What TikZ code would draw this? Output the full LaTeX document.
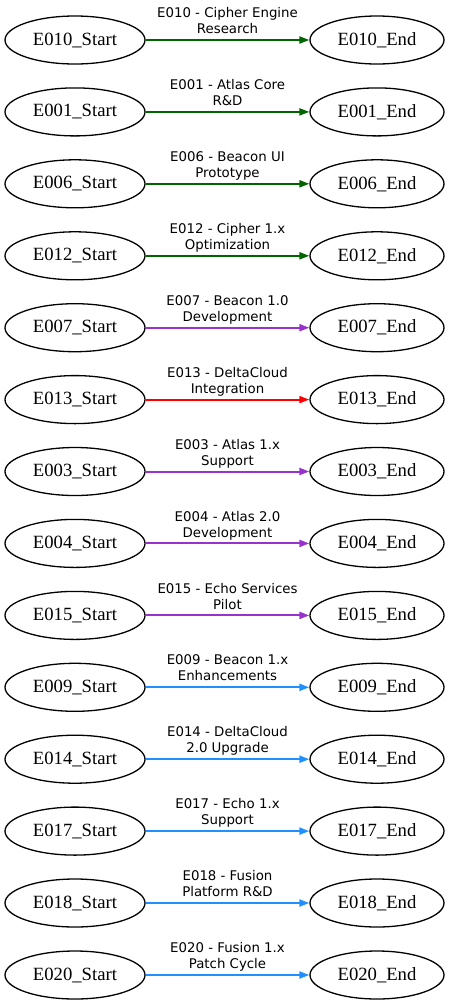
\documentclass[tikz,border=0pt]{standalone}
\usepackage{fontspec}
\usepackage{xcolor}
\usepackage{tikz}
\usetikzlibrary{shapes.geometric,arrows.meta}
\newfontfamily\evtfont{Liberation Serif}
\newfontfamily\labfont{DejaVu Sans}
\definecolor{cgreen}{HTML}{006400}
\definecolor{cpurple}{HTML}{9932CC}
\definecolor{cred}{HTML}{FF0000}
\definecolor{cblue}{HTML}{1E90FF}
\tikzset{
  evt/.style={draw,ellipse,line width=1.3pt,inner sep=0pt,minimum height=48pt,
    font=\evtfont\fontsize{18.67}{20}\selectfont},
  evs/.style={evt,minimum width=140pt},
  eve/.style={evt,minimum width=134pt},
  link/.style={->,line width=2pt},
  elab/.style={above=2.6pt,inner sep=0pt,align=center,text=black,
    font=\labfont\fontsize{13.33}{16}\selectfont}
}
\newcommand{\lab}[2]{#1\\#2\vphantom{y}}
\begin{document}
\begin{tikzpicture}[x=1pt,y=-1pt,>={Triangle[length=10pt,width=7pt]}]
  \useasboundingbox (0,0) rectangle (448,1005);
  \node[evs] (s010) at (75,40) {E010\_Start};
  \node[eve] (e010) at (377,40) {E010\_End};
  \draw[link,cgreen] (s010) -- node[elab] {\lab{E010 - Cipher Engine}{Research}} (e010);
  \node[evs] (s001) at (75,111.9) {E001\_Start};
  \node[eve] (e001) at (377,111.9) {E001\_End};
  \draw[link,cgreen] (s001) -- node[elab] {\lab{E001 - Atlas Core}{R\&D}} (e001);
  \node[evs] (s006) at (75,183.8) {E006\_Start};
  \node[eve] (e006) at (377,183.8) {E006\_End};
  \draw[link,cgreen] (s006) -- node[elab] {\lab{E006 - Beacon UI}{Prototype}} (e006);
  \node[evs] (s012) at (75,255.8) {E012\_Start};
  \node[eve] (e012) at (377,255.8) {E012\_End};
  \draw[link,cgreen] (s012) -- node[elab] {\lab{E012 - Cipher 1.x}{Optimization}} (e012);
  \node[evs] (s007) at (75,327.7) {E007\_Start};
  \node[eve] (e007) at (377,327.7) {E007\_End};
  \draw[link,cpurple] (s007) -- node[elab] {\lab{E007 - Beacon 1.0}{Development}} (e007);
  \node[evs] (s013) at (75,399.6) {E013\_Start};
  \node[eve] (e013) at (377,399.6) {E013\_End};
  \draw[link,cred] (s013) -- node[elab] {\lab{E013 - DeltaCloud}{Integration}} (e013);
  \node[evs] (s003) at (75,471.5) {E003\_Start};
  \node[eve] (e003) at (377,471.5) {E003\_End};
  \draw[link,cpurple] (s003) -- node[elab] {\lab{E003 - Atlas 1.x}{Support}} (e003);
  \node[evs] (s004) at (75,543.4) {E004\_Start};
  \node[eve] (e004) at (377,543.4) {E004\_End};
  \draw[link,cpurple] (s004) -- node[elab] {\lab{E004 - Atlas 2.0}{Development}} (e004);
  \node[evs] (s015) at (75,615.4) {E015\_Start};
  \node[eve] (e015) at (377,615.4) {E015\_End};
  \draw[link,cpurple] (s015) -- node[elab] {\lab{E015 - Echo Services}{Pilot}} (e015);
  \node[evs] (s009) at (75,687.3) {E009\_Start};
  \node[eve] (e009) at (377,687.3) {E009\_End};
  \draw[link,cblue] (s009) -- node[elab] {\lab{E009 - Beacon 1.x}{Enhancements}} (e009);
  \node[evs] (s014) at (75,759.2) {E014\_Start};
  \node[eve] (e014) at (377,759.2) {E014\_End};
  \draw[link,cblue] (s014) -- node[elab] {\lab{E014 - DeltaCloud}{2.0 Upgrade}} (e014);
  \node[evs] (s017) at (75,831.1) {E017\_Start};
  \node[eve] (e017) at (377,831.1) {E017\_End};
  \draw[link,cblue] (s017) -- node[elab] {\lab{E017 - Echo 1.x}{Support}} (e017);
  \node[evs] (s018) at (75,903.0) {E018\_Start};
  \node[eve] (e018) at (377,903.0) {E018\_End};
  \draw[link,cblue] (s018) -- node[elab] {\lab{E018 - Fusion}{Platform R\&D}} (e018);
  \node[evs] (s020) at (75,975.0) {E020\_Start};
  \node[eve] (e020) at (377,975.0) {E020\_End};
  \draw[link,cblue] (s020) -- node[elab] {\lab{E020 - Fusion 1.x}{Patch Cycle}} (e020);
\end{tikzpicture}
\end{document}
